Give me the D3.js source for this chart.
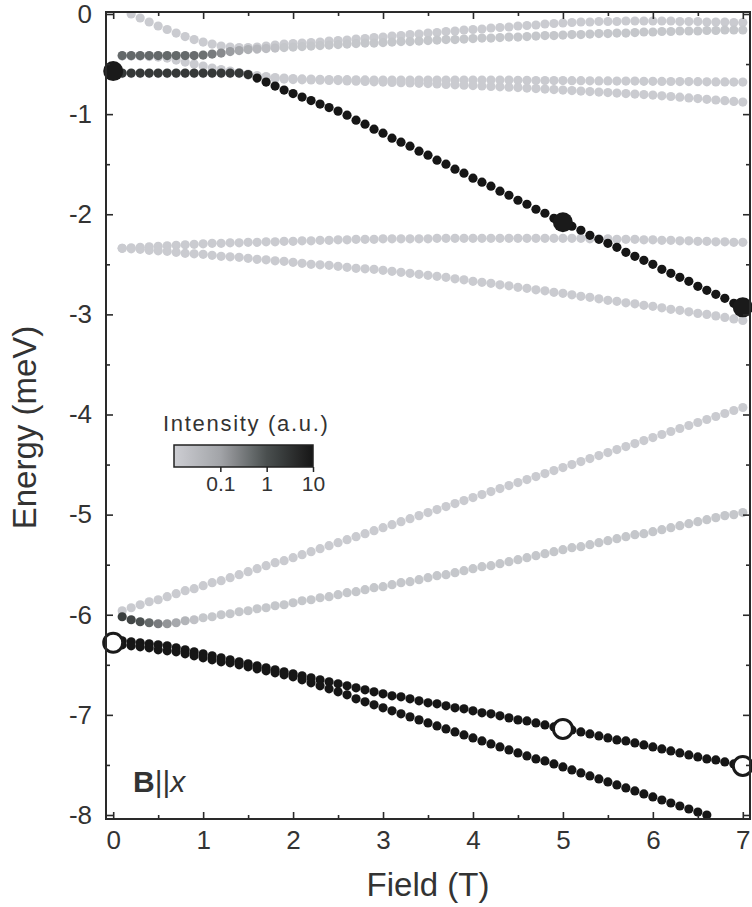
<!DOCTYPE html>
<html>
<head>
<meta charset="utf-8">
<script src="https://cdn.jsdelivr.net/npm/d3@7"></script>
<style>
  body { margin: 0; background: #fff; }
  text { font-family: Arial, "Liberation Sans", sans-serif; fill: #333; }
</style>
</head>
<body>
<div id="chart"></div>
<script>
// Zeeman diagram, B || x : energy levels vs field, dots shaded by intensity

// field grid of the calculated points (T)
const fields = [
  0.1, 0.2, 0.3, 0.4, 0.5, 0.6, 0.7, 0.8, 0.9, 1.0,
  1.1, 1.2, 1.3, 1.4, 1.5, 1.6, 1.7, 1.8, 1.9, 2.0,
  2.1, 2.2, 2.3, 2.4, 2.5, 2.6, 2.7, 2.8, 2.9, 3.0,
  3.1, 3.2, 3.3, 3.4, 3.5, 3.6, 3.7, 3.8, 3.9, 4.0,
  4.1, 4.2, 4.3, 4.4, 4.5, 4.6, 4.7, 4.8, 4.9, 5.0,
  5.1, 5.2, 5.3, 5.4, 5.5, 5.6, 5.7, 5.8, 5.9, 6.0,
  6.1, 6.2, 6.3, 6.4, 6.5, 6.6, 6.7, 6.8, 6.9, 7.0
]

// top group
const energyT1 = [
  null, 0.00, -0.04, -0.08, -0.12, -0.155, -0.19, -0.225, -0.255, -0.28,
  -0.30, -0.32, -0.33, -0.335, -0.335, -0.33, -0.32, -0.31, -0.30, -0.295,
  -0.29, -0.285, -0.28, -0.27, -0.265, -0.26, -0.25, -0.245, -0.235, -0.23,
  -0.22, -0.215, -0.205, -0.20, -0.19, -0.185, -0.175, -0.17, -0.16, -0.155,
  -0.15, -0.14, -0.135, -0.13, -0.12, -0.115, -0.11, -0.10, -0.095, -0.09,
  -0.085, -0.08, -0.08, -0.075, -0.075, -0.075, -0.07, -0.07, -0.07, -0.07,
  -0.07, -0.07, -0.075, -0.075, -0.075, -0.08, -0.08, -0.08, -0.085, -0.085
]
const energyT2 = [
  -0.415, -0.415, -0.415, -0.415, -0.415, -0.415, -0.415, -0.415, -0.415, -0.41,
  -0.40, -0.39, -0.375, -0.365, -0.355, -0.35, -0.345, -0.34, -0.335, -0.33,
  -0.325, -0.32, -0.315, -0.31, -0.305, -0.30, -0.295, -0.29, -0.29, -0.285,
  -0.28, -0.275, -0.275, -0.27, -0.265, -0.26, -0.255, -0.255, -0.25, -0.245,
  -0.24, -0.24, -0.235, -0.23, -0.23, -0.225, -0.22, -0.215, -0.215, -0.21,
  -0.205, -0.205, -0.20, -0.195, -0.195, -0.19, -0.19, -0.185, -0.18, -0.18,
  -0.175, -0.175, -0.17, -0.17, -0.17, -0.165, -0.165, -0.16, -0.16, -0.16
]
const intensityT2 = [
  0.5, 0.5, 0.5, 0.5, 0.5, 0.5, 0.5, 0.5, 0.45, 0.4,
  0.3, 0.2, 0.12, 0.08, 0.05, 0.035, 0.025, 0.02, 0.015, 0.015,
  0.015, 0.015, 0.015, 0.015, 0.015, 0.015, 0.015, 0.015, 0.015, 0.015,
  0.015, 0.015, 0.015, 0.015, 0.015, 0.015, 0.015, 0.015, 0.015, 0.015,
  0.015, 0.015, 0.015, 0.015, 0.015, 0.015, 0.015, 0.015, 0.015, 0.015,
  0.015, 0.015, 0.015, 0.015, 0.015, 0.015, 0.015, 0.015, 0.015, 0.015,
  0.015, 0.015, 0.015, 0.015, 0.015, 0.015, 0.015, 0.015, 0.015, 0.015
]
const energyC1 = [
  -0.42, -0.42, -0.42, -0.425, -0.43, -0.44, -0.46, -0.48, -0.50, -0.52,
  -0.54, -0.555, -0.57, -0.585, -0.60, -0.615, -0.625, -0.635, -0.64, -0.645,
  -0.648, -0.65, -0.652, -0.654, -0.655, -0.656, -0.657, -0.658, -0.659, -0.66,
  -0.66, -0.66, -0.66, -0.66, -0.66, -0.66, -0.66, -0.66, -0.66, -0.66,
  -0.66, -0.66, -0.66, -0.66, -0.662, -0.662, -0.664, -0.664, -0.665, -0.665,
  -0.666, -0.666, -0.667, -0.668, -0.668, -0.67, -0.67, -0.67, -0.672, -0.672,
  -0.673, -0.674, -0.675, -0.675, -0.676, -0.677, -0.678, -0.678, -0.68, -0.68
]
const energyC2 = [
  -0.595, -0.595, -0.595, -0.595, -0.595, -0.595, -0.595, -0.595, -0.595, -0.595,
  -0.595, -0.595, -0.595, -0.595, -0.61, -0.625, -0.635, -0.645, -0.65, -0.655,
  -0.657, -0.659, -0.661, -0.663, -0.665, -0.668, -0.671, -0.674, -0.677, -0.68,
  -0.683, -0.686, -0.689, -0.692, -0.695, -0.699, -0.703, -0.707, -0.711, -0.715,
  -0.719, -0.723, -0.727, -0.731, -0.735, -0.74, -0.745, -0.75, -0.755, -0.76,
  -0.765, -0.77, -0.775, -0.78, -0.785, -0.79, -0.795, -0.80, -0.805, -0.81,
  -0.817, -0.824, -0.831, -0.838, -0.845, -0.852, -0.859, -0.866, -0.873, -0.88
]
const energyD = [
  -0.59, -0.59, -0.59, -0.59, -0.59, -0.59, -0.59, -0.59, -0.59, -0.59,
  -0.59, -0.59, -0.59, -0.59, -0.605, -0.64, -0.68, -0.72, -0.76, -0.795,
  -0.83, -0.865, -0.90, -0.935, -0.97, -1.01, -1.06, -1.10, -1.15, -1.19,
  -1.24, -1.28, -1.32, -1.37, -1.41, -1.46, -1.50, -1.55, -1.59, -1.64,
  -1.68, -1.72, -1.77, -1.81, -1.86, -1.90, -1.95, -1.99, -2.04, -2.08,
  -2.12, -2.16, -2.21, -2.25, -2.29, -2.33, -2.38, -2.42, -2.46, -2.50,
  -2.55, -2.59, -2.63, -2.67, -2.72, -2.76, -2.80, -2.84, -2.89, -2.93
]
const intensityD = [
  2.5, 2.5, 2.5, 2.5, 2.5, 2.5, 2.5, 2.5, 2.5, 2.5,
  2.5, 2.5, 2.5, 2.5, 4, 10, 10, 10, 10, 10,
  10, 10, 10, 10, 10, 10, 10, 10, 10, 10,
  10, 10, 10, 10, 10, 10, 10, 10, 10, 10,
  10, 10, 10, 10, 10, 10, 10, 10, 10, 10,
  10, 10, 10, 10, 10, 10, 10, 10, 10, 10,
  10, 10, 10, 10, 10, 10, 10, 10, 10, 10
]

// middle group
const energyM1 = [
  -2.34, -2.335, -2.33, -2.325, -2.32, -2.315, -2.31, -2.305, -2.30, -2.295,
  -2.29, -2.29, -2.285, -2.285, -2.28, -2.28, -2.275, -2.275, -2.27, -2.27,
  -2.265, -2.265, -2.26, -2.26, -2.255, -2.255, -2.25, -2.25, -2.25, -2.245,
  -2.245, -2.245, -2.245, -2.245, -2.245, -2.24, -2.24, -2.24, -2.24, -2.24,
  -2.24, -2.24, -2.24, -2.24, -2.24, -2.24, -2.24, -2.24, -2.24, -2.24,
  -2.24, -2.24, -2.245, -2.245, -2.245, -2.25, -2.25, -2.25, -2.255, -2.255,
  -2.26, -2.26, -2.265, -2.265, -2.27, -2.27, -2.275, -2.275, -2.28, -2.28
]
const energyM2 = [
  -2.34, -2.345, -2.35, -2.36, -2.365, -2.37, -2.38, -2.39, -2.395, -2.40,
  -2.41, -2.42, -2.425, -2.43, -2.44, -2.45, -2.455, -2.465, -2.47, -2.48,
  -2.49, -2.50, -2.505, -2.51, -2.52, -2.53, -2.54, -2.545, -2.55, -2.56,
  -2.57, -2.58, -2.59, -2.60, -2.61, -2.62, -2.63, -2.645, -2.655, -2.67,
  -2.68, -2.69, -2.705, -2.715, -2.73, -2.74, -2.755, -2.765, -2.78, -2.79,
  -2.805, -2.82, -2.83, -2.845, -2.86, -2.87, -2.885, -2.895, -2.91, -2.92,
  -2.935, -2.95, -2.96, -2.975, -2.99, -3.00, -3.015, -3.03, -3.045, -3.06
]

// bottom group
const energyL1 = [
  -5.96, -5.93, -5.90, -5.87, -5.85, -5.82, -5.79, -5.76, -5.74, -5.71,
  -5.68, -5.66, -5.63, -5.60, -5.57, -5.54, -5.51, -5.48, -5.46, -5.43,
  -5.40, -5.37, -5.34, -5.31, -5.28, -5.25, -5.22, -5.19, -5.16, -5.13,
  -5.10, -5.07, -5.04, -5.01, -4.98, -4.95, -4.92, -4.89, -4.86, -4.83,
  -4.80, -4.77, -4.74, -4.71, -4.68, -4.65, -4.62, -4.59, -4.56, -4.53,
  -4.50, -4.47, -4.44, -4.41, -4.38, -4.35, -4.32, -4.29, -4.26, -4.23,
  -4.20, -4.17, -4.14, -4.11, -4.08, -4.05, -4.02, -3.99, -3.96, -3.93
]
const energyL2 = [
  -6.02, -6.05, -6.07, -6.08, -6.09, -6.09, -6.08, -6.06, -6.05, -6.03,
  -6.02, -6.00, -5.99, -5.97, -5.96, -5.94, -5.93, -5.91, -5.90, -5.88,
  -5.86, -5.85, -5.83, -5.82, -5.80, -5.78, -5.77, -5.75, -5.73, -5.72,
  -5.70, -5.68, -5.67, -5.65, -5.63, -5.61, -5.60, -5.58, -5.56, -5.54,
  -5.52, -5.51, -5.49, -5.47, -5.45, -5.43, -5.41, -5.39, -5.37, -5.35,
  -5.33, -5.32, -5.30, -5.28, -5.26, -5.24, -5.22, -5.20, -5.19, -5.17,
  -5.15, -5.13, -5.11, -5.09, -5.07, -5.05, -5.03, -5.01, -5.00, -4.98
]
const intensityL2 = [
  2, 1.5, 1, 0.5, 0.3, 0.15, 0.08, 0.04, 0.02, 0.015,
  0.015, 0.015, 0.015, 0.015, 0.015, 0.015, 0.015, 0.015, 0.015, 0.015,
  0.015, 0.015, 0.015, 0.015, 0.015, 0.015, 0.015, 0.015, 0.015, 0.015,
  0.015, 0.015, 0.015, 0.015, 0.015, 0.015, 0.015, 0.015, 0.015, 0.015,
  0.015, 0.015, 0.015, 0.015, 0.015, 0.015, 0.015, 0.015, 0.015, 0.015,
  0.015, 0.015, 0.015, 0.015, 0.015, 0.015, 0.015, 0.015, 0.015, 0.015,
  0.015, 0.015, 0.015, 0.015, 0.015, 0.015, 0.015, 0.015, 0.015, 0.015
]
const energyK1 = [
  -6.26, -6.27, -6.28, -6.29, -6.30, -6.31, -6.33, -6.35, -6.37, -6.39,
  -6.41, -6.43, -6.45, -6.47, -6.49, -6.51, -6.53, -6.55, -6.57, -6.59,
  -6.61, -6.63, -6.65, -6.67, -6.69, -6.71, -6.73, -6.75, -6.77, -6.79,
  -6.81, -6.82, -6.84, -6.86, -6.88, -6.89, -6.91, -6.93, -6.94, -6.96,
  -6.98, -6.99, -7.01, -7.03, -7.05, -7.06, -7.08, -7.10, -7.12, -7.14,
  -7.15, -7.17, -7.19, -7.21, -7.23, -7.25, -7.26, -7.28, -7.30, -7.32,
  -7.34, -7.36, -7.38, -7.40, -7.42, -7.44, -7.45, -7.47, -7.49, -7.51
]
const energyK2 = [
  -6.30, -6.31, -6.32, -6.33, -6.35, -6.36, -6.37, -6.39, -6.41, -6.43,
  -6.45, -6.47, -6.48, -6.50, -6.52, -6.54, -6.56, -6.58, -6.60, -6.62,
  -6.65, -6.68, -6.71, -6.74, -6.77, -6.80, -6.84, -6.87, -6.90, -6.93,
  -6.96, -6.99, -7.02, -7.05, -7.08, -7.11, -7.14, -7.17, -7.20, -7.23,
  -7.26, -7.29, -7.32, -7.35, -7.38, -7.41, -7.44, -7.46, -7.49, -7.52,
  -7.55, -7.58, -7.61, -7.64, -7.67, -7.70, -7.73, -7.76, -7.79, -7.82,
  -7.85, -7.88, -7.91, -7.94, -7.97, -8.00, null, null, null, null
]

// big markers at 0, 5 and 7 T
const markerFields = [0, 5, 7]
const filledEnergy = [-0.57, -2.08, -2.93]
const openEnergy = [-6.28, -7.14, -7.51]

// axis ticks
const xTicks = [0, 1, 2, 3, 4, 5, 6, 7]
const xMinor = [0.5, 1.5, 2.5, 3.5, 4.5, 5.5, 6.5]
const yTicks = [0, -1, -2, -3, -4, -5, -6, -7, -8]
const yMinor = [-0.5, -1.5, -2.5, -3.5, -4.5, -5.5, -6.5, -7.5]
const barTicks = [0.1, 1, 10]

const LIGHT = 0.012
let levels = [
  { E: energyT1, I: LIGHT },
  { E: energyT2, I: intensityT2 },
  { E: energyC1, I: LIGHT },
  { E: energyC2, I: LIGHT },
  { E: energyD, I: intensityD },
  { E: energyM1, I: LIGHT },
  { E: energyM2, I: LIGHT },
  { E: energyL1, I: LIGHT },
  { E: energyL2, I: intensityL2 },
  { E: energyK1, I: 10 },
  { E: energyK2, I: 10 }
]

const width = 752, height = 907
const pLeft = 106, pRight = 750, pTop = 12, pBottom = 819

let svg = d3.select("#chart").append("svg")
    .attr("width", width)
    .attr("height", height)

let x = d3.scaleLinear().domain([-0.08, 7.08]).range([pLeft, pRight])
let y = d3.scaleLinear().domain([-8.04, 0.02]).range([pBottom, pTop])

// intensity colour map (log)
let color = d3.scaleLog()
    .domain([0.01, 0.1, 1, 10])
    .range(["#cdced3", "#a2a4a8", "#4a4f4f", "#161616"])
    .clamp(true)

let defs = svg.append("defs")
defs.append("clipPath").attr("id", "plot")
  .append("rect")
    .attr("x", pLeft).attr("y", pTop)
    .attr("width", pRight - pLeft).attr("height", pBottom - pTop)

// flatten all levels into dots, darker ones drawn last
let dots = []
levels.forEach(function (lv) {
    lv.E.forEach(function (e, i) {
        if (e === null) return
        let inten = Array.isArray(lv.I) ? lv.I[i] : lv.I
        dots.push({ f: fields[i], e: e, i: inten })
    })
})
dots.sort((a, b) => a.i - b.i)

svg.append("g")
    .attr("clip-path", "url(#plot)")
    .selectAll("circle")
    .data(dots).enter()
    .append("circle")
    .attr("cx", d => x(d.f))
    .attr("cy", d => y(d.e))
    .attr("r", 4.6)
    .attr("fill", d => color(d.i))

// big markers
svg.append("g").selectAll("circle")
    .data(markerFields).enter()
    .append("circle")
    .attr("cx", d => x(d))
    .attr("cy", (d, i) => y(filledEnergy[i]))
    .attr("r", 10)
    .attr("fill", "#1a1a1a")

svg.append("g").selectAll("circle")
    .data(markerFields).enter()
    .append("circle")
    .attr("cx", d => x(d))
    .attr("cy", (d, i) => y(openEnergy[i]))
    .attr("r", 9.5)
    .attr("fill", "#fff")
    .attr("stroke", "#1a1a1a")
    .attr("stroke-width", 3)

// axes, ticks pointing inward
function styleAxis(g) {
    g.select(".domain").remove()
    g.selectAll(".tick line").attr("stroke", "#2a2a2a").attr("stroke-width", 1.6)
    g.selectAll(".tick text").style("font-size", "26px").attr("fill", "#333")
}
const plain = d => String(d)

svg.append("g")
    .attr("transform", `translate(0,${pBottom})`)
    .call(d3.axisBottom(x).tickValues(xTicks).tickFormat(plain)
        .tickSizeInner(-7).tickSizeOuter(0).tickPadding(12))
    .call(styleAxis)

svg.append("g")
    .attr("transform", `translate(0,${pBottom})`)
    .call(d3.axisBottom(x).tickValues(xMinor).tickFormat("").tickSizeInner(-4).tickSizeOuter(0))
    .call(styleAxis)

svg.append("g")
    .attr("transform", `translate(0,${pTop})`)
    .call(d3.axisTop(x).tickValues(xTicks).tickFormat("").tickSizeInner(-7).tickSizeOuter(0))
    .call(styleAxis)

svg.append("g")
    .attr("transform", `translate(0,${pTop})`)
    .call(d3.axisTop(x).tickValues(xMinor).tickFormat("").tickSizeInner(-4).tickSizeOuter(0))
    .call(styleAxis)

svg.append("g")
    .attr("transform", `translate(${pLeft},0)`)
    .call(d3.axisLeft(y).tickValues(yTicks).tickFormat(plain)
        .tickSizeInner(-7).tickSizeOuter(0).tickPadding(14))
    .call(styleAxis)

svg.append("g")
    .attr("transform", `translate(${pLeft},0)`)
    .call(d3.axisLeft(y).tickValues(yMinor).tickFormat("").tickSizeInner(-4).tickSizeOuter(0))
    .call(styleAxis)

svg.append("g")
    .attr("transform", `translate(${pRight},0)`)
    .call(d3.axisRight(y).tickValues(yTicks).tickFormat("").tickSizeInner(-7).tickSizeOuter(0))
    .call(styleAxis)

svg.append("g")
    .attr("transform", `translate(${pRight},0)`)
    .call(d3.axisRight(y).tickValues(yMinor).tickFormat("").tickSizeInner(-4).tickSizeOuter(0))
    .call(styleAxis)

// frame
svg.append("rect")
    .attr("x", pLeft).attr("y", pTop)
    .attr("width", pRight - pLeft).attr("height", pBottom - pTop)
    .attr("fill", "none")
    .attr("stroke", "#2a2a2a")
    .attr("stroke-width", 2)

// axis titles
svg.append("text")
    .attr("text-anchor", "middle")
    .attr("x", (pLeft + pRight) / 2)
    .attr("y", 896)
    .style("font-size", "33px")
    .text("Field (T)")

svg.append("text")
    .attr("text-anchor", "middle")
    .attr("transform", `translate(36,${(pTop + pBottom) / 2 + 12}) rotate(-90)`)
    .style("font-size", "33px")
    .text("Energy (meV)")

// B||x label
let lab = svg.append("text")
    .attr("x", 133)
    .attr("y", 792)
    .style("font-size", "30px")
lab.append("tspan").style("font-weight", "bold").text("B")
lab.append("tspan").text("||")
lab.append("tspan").style("font-style", "italic").text("x")

// colour bar
let bar = d3.scaleLog().domain([0.01, 10]).range([174, 313])

let grad = defs.append("linearGradient")
    .attr("id", "grad")
grad.selectAll("stop")
    .data([0.01, 0.02, 0.05, 0.1, 0.2, 0.5, 1, 2, 5, 10]).enter()
    .append("stop")
    .attr("offset", d => (bar(d) - 174) / (313 - 174))
    .attr("stop-color", d => color(d))

svg.append("rect")
    .attr("x", 174).attr("y", 445)
    .attr("width", 139).attr("height", 22)
    .attr("fill", "url(#grad)")
    .attr("stroke", "#222")
    .attr("stroke-width", 1.5)

svg.append("g")
    .attr("transform", "translate(0,467)")
    .call(d3.axisBottom(bar).tickValues(barTicks).tickFormat(plain)
        .tickSizeInner(5).tickSizeOuter(0).tickPadding(4))
    .call(g => g.select(".domain").remove())
    .call(g => g.selectAll(".tick line").attr("stroke", "#222").attr("stroke-width", 1.5))
    .call(g => g.selectAll(".tick text").style("font-size", "21px").attr("fill", "#333"))

svg.append("text")
    .attr("x", 163)
    .attr("y", 431)
    .style("font-size", "22px")
    .style("letter-spacing", "1.7px")
    .text("Intensity (a.u.)")
</script>
</body>
</html>
